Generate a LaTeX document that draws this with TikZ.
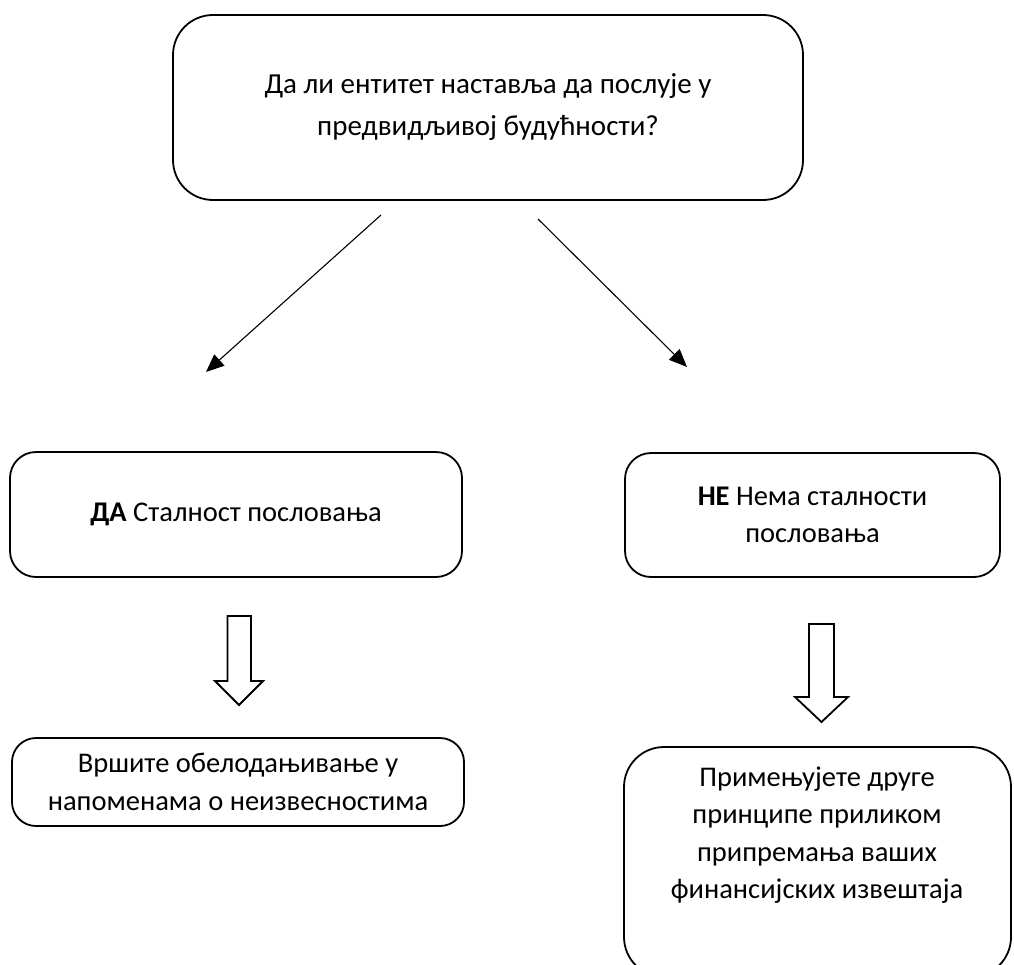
\documentclass[tikz,border=0pt]{standalone}
\usepackage{fontspec}
\setmainfont{Carlito}
\usetikzlibrary{arrows.meta}
\begin{document}
\begin{tikzpicture}[x=1pt,y=-1pt,
  box/.style={draw, line width=1.8pt, rectangle, inner sep=0pt, align=center,
    font=\fontsize{28.5}{37.5}\selectfont},
  txt/.style={inner sep=0pt, align=center, font=\fontsize{28.5}{37.5}\selectfont},
  conn/.style={line width=1.1pt, -{Triangle[length=18pt,width=15pt]}},
  blockarrow/.style={draw, line width=1.8pt, fill=white, line join=miter}]
\useasboundingbox (0,0) rectangle (1014,964);
\clip (0,0) rectangle (1014,964);

\node[box, rounded corners=40pt, minimum width=630pt, minimum height=185pt,
  font=\fontsize{29}{42}\selectfont] (q) at (488,107.5)
  {Да ли ентитет наставља да послује у\\предвидљивој будућности?};

\node[box, rounded corners=26pt, minimum width=452pt, minimum height=125pt] (yes) at (236,514.5)
  {\textbf{ДА} Сталност пословања};
\node[box, rounded corners=26pt, minimum width=375pt, minimum height=124pt] (no) at (812.5,515)
  {\textbf{НЕ} Нема сталности\\пословања};

\node[box, rounded corners=24pt, minimum width=452pt, minimum height=88pt] (disc) at (238,782)
  {Вршите обелодањивање у\\напоменама о неизвесностима};
\node[box, rounded corners=40pt, minimum width=387pt, minimum height=230pt] (other) at (817.5,862) {};
\node[txt] (othertxt) at (817,835)
  {Примењујете друге\\принципе приликом\\припремања ваших\\финансијских извештаја};

\coordinate (a1s) at (381,215);
\coordinate (a1e) at (206,372);
\coordinate (a2s) at (538,219);
\coordinate (a2e) at (687,367);
\draw[conn] (a1s) -- (a1e);
\draw[conn] (a2s) -- (a2e);

\draw[blockarrow] (227.5,616) -- (251,616) -- (251,681) -- (263,681) -- (239,705)
  -- (215,681) -- (227.5,681) -- cycle;
\draw[blockarrow] (809,624) -- (834,624) -- (834,697) -- (848,697) -- (821.5,722)
  -- (795,697) -- (809,697) -- cycle;
\end{tikzpicture}
\end{document}
